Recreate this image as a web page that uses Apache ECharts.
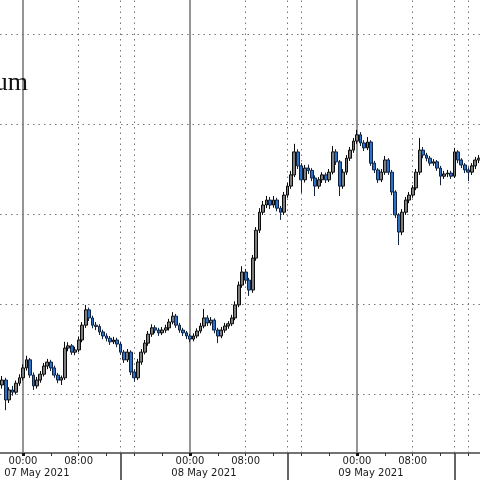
<!DOCTYPE html>
<html>
<head>
<meta charset="utf-8">
<script src="https://cdn.jsdelivr.net/npm/echarts@6/dist/echarts.min.js"></script>
<style>
html,body{margin:0;padding:0;background:#fff;}
#chart{width:480px;height:480px;}
</style>
</head>
<body>
<div id="chart"></div>
<script>
// 30-minute candles, hours relative to 07 May 2021 00:00
const startHour = -3;
const stepHour = 0.5;

const opens = [3420,3431,3387,3409,3404,3424,3436,3458,3476,3442,
 3418,3431,3444,3462,3471,3458,3442,3431,3436,3502,
 3507,3493,3498,3520,3553,3587,3569,3553,3550,3538,
 3529,3524,3516,3520,3511,3493,3476,3493,3449,3436,
 3471,3493,3513,3533,3547,3542,3536,3542,3547,3560,
 3573,3553,3542,3536,3529,3522,3529,3540,3551,3569,
 3558,3564,3542,3529,3542,3551,3556,3569,3598,3642,
 3671,3653,3631,3702,3764,3804,3820,3831,3820,3831,
 3813,3804,3842,3862,3887,3938,3907,3876,3902,3897,
 3880,3862,3876,3887,3876,3893,3938,3916,3862,3893,
 3924,3942,3962,3976,3958,3947,3960,3913,3898,3876,
 3893,3920,3893,3849,3798,3760,3804,3831,3842,3858,
 3893,3942,3931,3924,3913,3916,3902,3884,3889,3891,
 3884,3938,3920,3909,3898,3893,3907,3920];

const closes = [3431,3387,3409,3404,3424,3436,3458,3476,3442,3418,
 3431,3444,3462,3471,3458,3442,3431,3436,3502,3507,
 3493,3498,3520,3553,3587,3569,3553,3550,3538,3529,
 3524,3516,3520,3511,3493,3476,3493,3449,3436,3471,
 3493,3513,3533,3547,3542,3536,3542,3547,3560,3573,
 3553,3542,3536,3529,3522,3529,3540,3551,3569,3558,
 3564,3542,3529,3542,3551,3556,3569,3598,3642,3671,
 3653,3631,3702,3764,3804,3820,3831,3820,3831,3813,
 3804,3842,3862,3887,3938,3907,3876,3902,3897,3880,
 3862,3876,3887,3876,3893,3938,3916,3862,3893,3924,
 3942,3962,3976,3958,3947,3960,3913,3898,3876,3893,
 3920,3893,3849,3798,3760,3804,3831,3842,3858,3893,
 3942,3931,3924,3913,3916,3902,3884,3889,3891,3884,
 3938,3920,3909,3898,3893,3907,3920,3924];

const highs = [3440,3436,3415,3418,3430,3444,3466,3485,3480,3448,
 3438,3451,3469,3478,3476,3463,3447,3441,3516,3515,
 3511,3505,3527,3560,3598,3592,3574,3560,3555,3543,
 3535,3529,3527,3525,3516,3498,3500,3497,3455,3478,
 3500,3520,3540,3555,3553,3547,3549,3554,3567,3582,
 3578,3558,3547,3540,3534,3535,3546,3558,3589,3575,
 3571,3568,3547,3549,3558,3562,3576,3606,3650,3684,
 3678,3658,3709,3771,3813,3829,3840,3838,3840,3836,
 3818,3849,3869,3896,3956,3944,3913,3909,3910,3902,
 3886,3882,3893,3892,3900,3951,3944,3920,3900,3931,
 3949,3969,3987,3982,3964,3971,3964,3918,3902,3900,
 3929,3924,3898,3853,3802,3811,3838,3849,3864,3900,
 3969,3949,3936,3929,3922,3920,3907,3896,3898,3896,
 3947,3942,3924,3913,3904,3913,3927,3931];

const lows = [3412,3364,3380,3396,3399,3418,3430,3452,3436,3409,
 3412,3425,3439,3455,3451,3436,3424,3420,3431,3495,
 3487,3486,3493,3515,3547,3562,3546,3542,3531,3522,
 3517,3509,3511,3504,3487,3469,3471,3442,3427,3431,
 3465,3488,3507,3527,3535,3529,3531,3536,3541,3555,
 3547,3536,3529,3522,3515,3517,3524,3535,3546,3551,
 3552,3535,3513,3524,3536,3545,3551,3564,3593,3636,
 3645,3618,3625,3696,3758,3798,3813,3811,3814,3806,
 3787,3798,3836,3856,3882,3900,3847,3870,3889,3873,
 3840,3856,3869,3869,3871,3888,3909,3840,3856,3887,
 3918,3936,3956,3951,3940,3942,3907,3891,3869,3871,
 3887,3887,3842,3791,3731,3753,3798,3824,3836,3853,
 3887,3924,3917,3907,3907,3896,3864,3878,3882,3878,
 3880,3913,3902,3891,3873,3887,3900,3913];

const gridValues = [3400, 3600, 3800, 4000, 4200];
const dayHours = [0, 24, 48];
const dottedHours = [8, 14, 16, 32, 38, 40, 56, 62, 64];
const separatorHours = [14, 38, 62];
const tickHours = [0,4,8,12,16,20,24,28,32,36,40,44,48,52,56,60,64];
const timeLabelHours = [0, 8, 24, 32, 48, 56];
const dateLabelHours = [2, 26, 50];
const dateLabels = ['07 May 2021', '08 May 2021', '09 May 2021'];

const xMin = -3.305, xMax = 65.677;
const yMin = 3268.9, yMax = 4275.6;

const candles = opens.map((o, i) => [startHour + i * stepHour, o, closes[i], lows[i], highs[i]]);

function hhmm(v) {
  const h = ((Math.round(v) % 24) + 24) % 24;
  return (h < 10 ? '0' : '') + h + ':00';
}

const labelFont = { fontFamily: '"DejaVu Sans", Verdana, sans-serif', fontSize: 10, color: '#1a1a1a', lineHeight: 11 };

const baseX = { type: 'value', min: xMin, max: xMax, position: 'bottom', gridIndex: 0,
  splitLine: { show: false } };

const chart = echarts.init(document.getElementById('chart'), null, { renderer: 'canvas' });
chart.setOption({
  animation: false,
  backgroundColor: '#ffffff',
  grid: { left: 0, right: 0, top: 0, bottom: 27, containLabel: false },
  graphic: [{
    type: 'text', x: 28, y: 83, z: 100,
    style: { text: 'Ethereum', align: 'right', verticalAlign: 'middle',
      font: '26px "Liberation Serif", "Times New Roman", serif', fill: '#111' }
  }],
  xAxis: [
    Object.assign({}, baseX, {
      axisLine: { show: true, lineStyle: { color: '#444', width: 1.5 } },
      axisTick: { show: true, customValues: tickHours, length: 3, lineStyle: { color: '#333', width: 1 } },
      axisLabel: Object.assign({ show: true, customValues: timeLabelHours, margin: 3, formatter: hhmm }, labelFont)
    }),
    Object.assign({}, baseX, {
      axisLine: { show: false },
      axisTick: { show: true, customValues: dayHours, length: 3, lineStyle: { color: '#111', width: 3 } },
      axisLabel: Object.assign({ show: true, customValues: dateLabelHours, margin: 15,
        formatter: function (v) { const k = dateLabelHours.indexOf(Math.round(v)); return k >= 0 ? dateLabels[k] : ''; } }, labelFont)
    }),
    Object.assign({}, baseX, {
      axisLine: { show: false },
      axisTick: { show: true, customValues: separatorHours, length: 28, lineStyle: { color: '#333', width: 1.5 } },
      axisLabel: { show: false }
    })
  ],
  yAxis: { type: 'value', min: yMin, max: yMax, show: false, splitLine: { show: false } },
  series: [
    {
      type: 'line', data: [], z: 1, silent: true,
      markLine: {
        silent: true, symbol: 'none', label: { show: false }, animation: false,
        data: [].concat(
          gridValues.map(v => ({ yAxis: v, lineStyle: { color: '#777', width: 1, type: [1.5, 4] } })),
          dottedHours.map(h => ({ xAxis: h, lineStyle: { color: '#777', width: 1, type: [1.5, 4] } })),
          dayHours.map(h => ({ xAxis: h, lineStyle: { color: '#7a7a7a', width: 1.6, type: 'solid' } }))
        )
      }
    },
    {
      type: 'candlestick', z: 5,
      xAxisIndex: 0, yAxisIndex: 0,
      data: candles,
      encode: { x: 0, y: [1, 2, 3, 4] },
      barWidth: 3.3,
      itemStyle: {
        color: '#7d7d7d', color0: '#2a72c8',
        borderColor: '#0a0a0a', borderColor0: '#10223e', borderWidth: 1
      }
    }
  ]
});
</script>
</body>
</html>
